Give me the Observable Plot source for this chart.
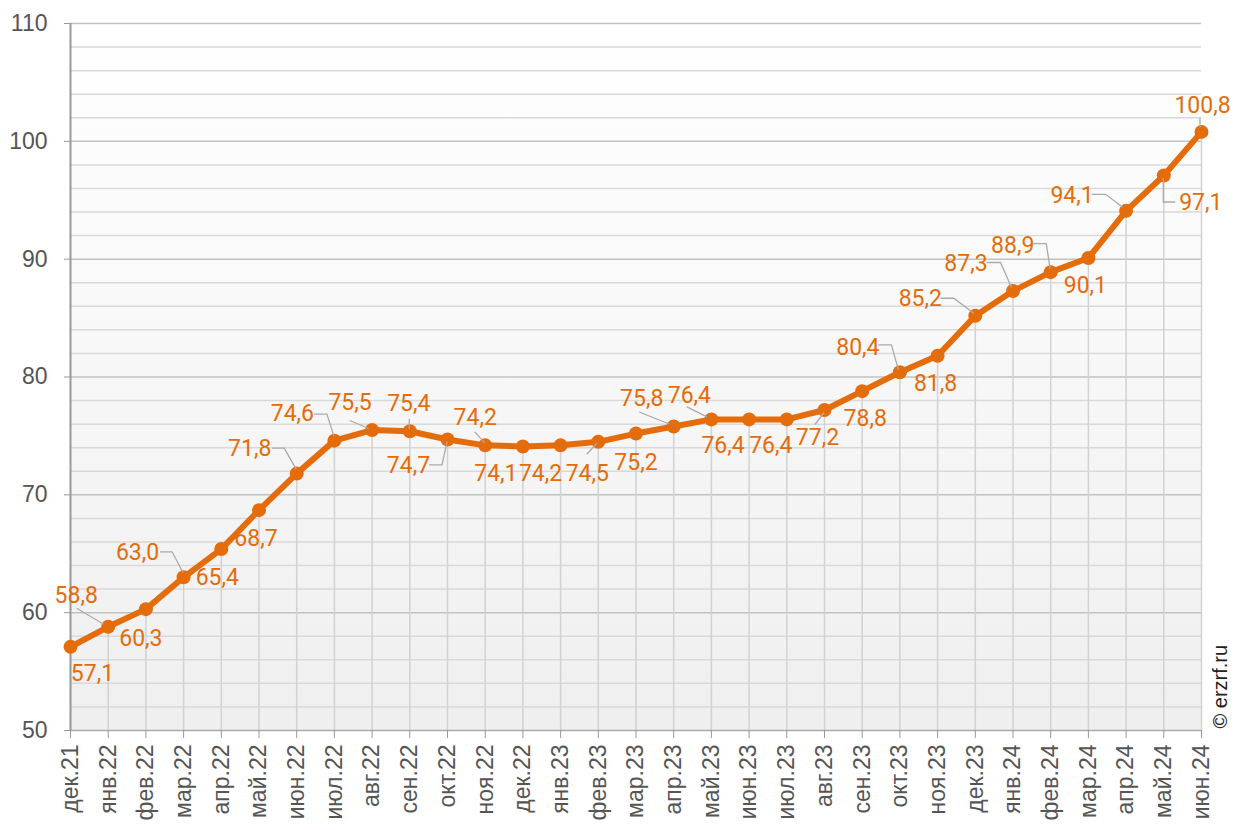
<!DOCTYPE html>
<html><head><meta charset="utf-8">
<script src="https://cdn.jsdelivr.net/npm/d3@7"></script>
<script src="https://cdn.jsdelivr.net/npm/@observablehq/plot@0.6"></script>
<style>
body{margin:0;background:#fff;}
#chart svg{font-family:Roboto,sans-serif;}
g[aria-label="y-axis tick"], g[aria-label="x-axis tick"]{stroke:#999;}
</style></head><body><div id="chart"></div>
<script>
const months = ["дек.21","янв.22","фев.22","мар.22","апр.22","май.22","июн.22","июл.22","авг.22","сен.22","окт.22","ноя.22","дек.22","янв.23","фев.23","мар.23","апр.23","май.23","июн.23","июл.23","авг.23","сен.23","окт.23","ноя.23","дек.23","янв.24","фев.24","мар.24","апр.24","май.24","июн.24"];
const values = [57.1,58.8,60.3,63.0,65.4,68.7,71.8,74.6,75.5,75.4,74.7,74.2,74.1,74.2,74.5,75.2,75.8,76.4,76.4,76.4,77.2,78.8,80.4,81.8,85.2,87.3,88.9,90.1,94.1,97.1,100.8];
const yTicks = [50,60,70,80,90,100,110];
const copyright = "© erzrf.ru";

// label placement (pixel offsets of the label centre from its point)
const labelOffsets = [[22,27],[-32,-31],[-5,29],[-46,-25],[-4,29],[-3,28],[-47,-25],[-42,-27],[-22,-27],[-1,-28],[-39,26],[-10,-28],[-27,27],[-20,28],[-11,32],[0,29],[-32,-28],[-22,-24],[-26,26],[-16,26],[-7,28],[3,27],[-42,-25],[-2,28],[-55,-17],[-47,-27],[-38,-27],[-3,28],[-54,-15],[37,27],[1,-26]];
// leader polylines (pixel offsets from the point), by point index
const leaders = {
  1: [[-31,-18],[-4,-2]],
  3: [[-23,-25],[-11,-25],[0,-4]],
  6: [[-24,-25],[-12,-25],[0,-4]],
  7: [[-20,-26],[-7,-26],[0,-4]],
  8: [[-22,-9],[-3,-1]],
  9: [[0,-12],[0,-2]],
  10: [[-18,26],[-5,26],[0,3]],
  11: [[-10,-13],[0,-2]],
  14: [[-11,13],[-1,2]],
  16: [[-34,-14],[-4,-2]],
  17: [[-24,-12],[-4,-2]],
  20: [[-9,15],[0,3]],
  22: [[-21,-27],[-8,-27],[-1,-2]],
  24: [[-34,-17],[-21,-17],[-1,-2]],
  25: [[-26,-28],[-12,-28],[-1,-3]],
  26: [[-17,-28],[-4,-28],[0,-3]],
  28: [[-34,-16],[-20,-16],[-3,-3]],
  29: [[0,3],[0,27],[12,27]],
  30: [[-1,-14],[-1,-4]]
};

const data = months.map((m,i)=>({m, v: values[i], i}));
const minor = d3.range(52,110,2).filter(v=>v%10!==0);
const major = [60,70,80,90,100,110];
const orange = "#E46C0A";
const axisFont = "'Liberation Sans', Arial, sans-serif";
const fmt = v => v.toFixed(1).replace(".", ",");
const last = months.length - 1;

const labelMarks = data.map((d,i)=>Plot.text([d], {x:"i", y:"v", text: d=>fmt(d.v), dx: labelOffsets[i][0], dy: labelOffsets[i][1], fill: orange, fontSize: 23, fontFamily:"Roboto"}));

const chart = Plot.plot({
  width: 1246, height: 830,
  marginLeft: 70, marginRight: 45, marginTop: 23, marginBottom: 100,
  style: {fontFamily: "Roboto, sans-serif", background: "transparent"},
  x: {type: "linear", domain: [0, last], label: null},
  y: {domain: [50,110], label: null},
  marks: [
    Plot.ruleY(minor, {stroke: "#d9d9d9", strokeWidth: 1.5}),
    Plot.ruleY(major, {stroke: "#c2c2c2", strokeWidth: 1.5}),
    Plot.ruleX(data, {x: "i", y1: 50, y2: "v", stroke: "#d2d2d2", strokeWidth: 1.5}),
    Plot.ruleY([50], {stroke: "#aaa", strokeWidth: 1.5}),
    Plot.ruleX([0], {stroke: "#999", strokeWidth: 2}),
    Plot.axisY({ticks: yTicks, tickSize: 6, tickPadding: 17, fontSize: 23, color: "#555", fontFamily: axisFont, tickFormat: d=>d}),
    Plot.axisX({ticks: d3.range(months.length), tickFormat: i => months[i], tickSize: 8, tickPadding: 6, tickRotate: -90, fontSize: 23, color: "#555", fontFamily: axisFont}),
    Plot.line(data, {x: "i", y: "v", stroke: orange, strokeWidth: 6, strokeLinejoin: "round"}),
    Plot.dot(data, {x: "i", y: "v", r: 7, fill: orange}),
    ...labelMarks,
    Plot.text([copyright], {x: () => last, y: () => 50, dx: 19, dy: -2, rotate: -90, textAnchor: "start", fontSize: 20, fill: "#222", fontFamily: axisFont})
  ]
});

// background gradient and leader lines drawn with the plot's own scales
const sx = chart.scale("x"), sy = chart.scale("y");
const svg = d3.select(chart);
const defs = svg.insert("defs", ":first-child");
const grad = defs.append("linearGradient").attr("id","bg").attr("x1",0).attr("y1",0).attr("x2",0).attr("y2",1);
grad.append("stop").attr("offset","0%").attr("stop-color","#ffffff");
grad.append("stop").attr("offset","100%").attr("stop-color","#efefef");
const x0 = sx.apply(0), x1 = sx.apply(last);
const y0 = sy.apply(110), y1 = sy.apply(50);
svg.insert("rect", "defs + *").attr("x", x0).attr("y", y0).attr("width", x1-x0).attr("height", y1-y0).attr("fill","url(#bg)");
const lg = svg.append("g").attr("fill","none").attr("stroke","#aaa").attr("stroke-width",1.3);
Object.entries(leaders).forEach(([k,pts])=>{
  const d = data[+k];
  const px = sx.apply(d.i), py = sy.apply(d.v);
  lg.append("path").attr("d", d3.line()(pts.map(([a,b])=>[px+a, py+b])));
});
document.getElementById("chart").appendChild(chart);
</script></body></html>
